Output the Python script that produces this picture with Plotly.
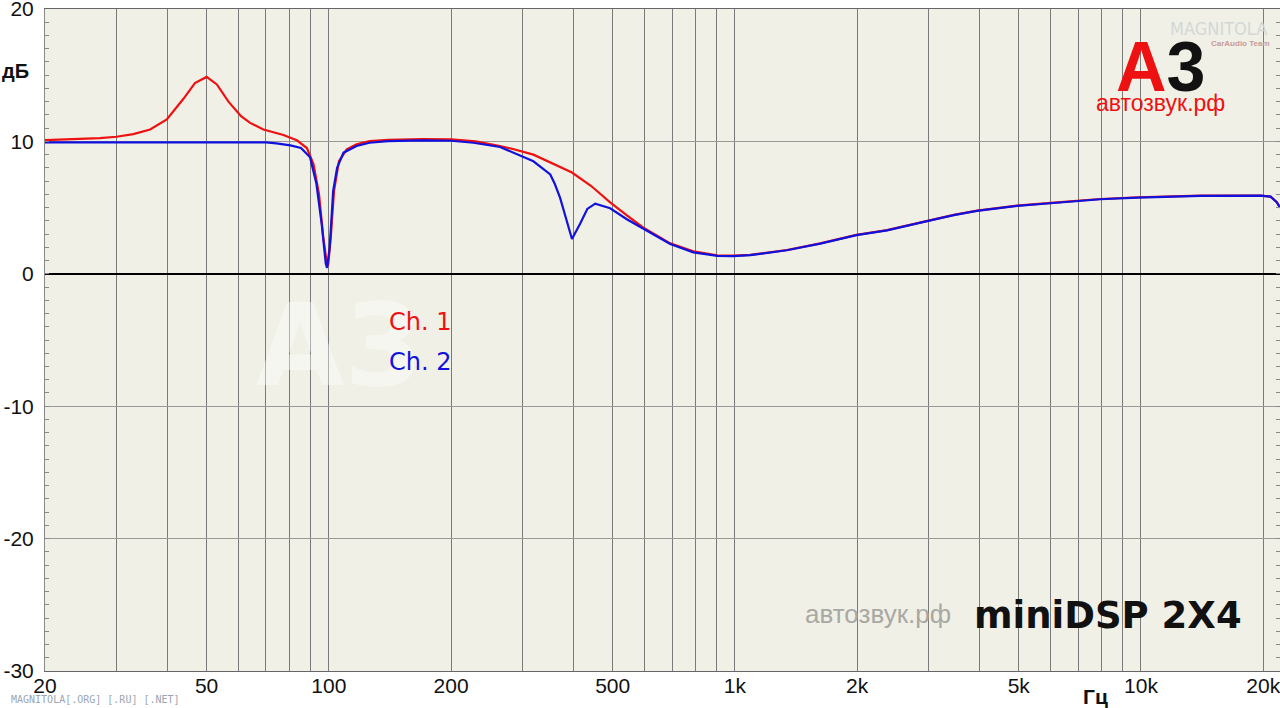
import plotly.graph_objects as go

# ---------------- data ----------------
ch1_freq = [20, 23, 25, 27.3, 30, 33, 36.3, 39.9, 43.8, 46.8, 50, 53, 56.6, 60.8, 64, 69, 77.3, 83.4,
            88.3, 91.7, 94.6, 96.9, 98.8, 99.6, 101.1, 103, 105.9, 110.7, 117, 126, 140, 170, 200,
            230, 264, 284, 319, 351, 397, 442, 493, 543, 594, 693, 790, 905, 1000, 1091, 1343, 1623,
            1992, 2370, 2975, 3460, 3947, 4510, 4955, 5990, 7940, 9840, 14000, 19700, 20850, 21600, 22000]
ch1_db = [10.1, 10.15, 10.2, 10.25, 10.35, 10.55, 10.9, 11.66, 13.2, 14.4, 14.87, 14.3, 13.0, 11.9, 11.4,
          10.9, 10.48, 10.08, 9.5, 8.27, 6.0, 2.75, 0.87, 0.62, 2.75, 6.27, 8.5, 9.4, 9.78, 10.03, 10.12,
          10.18, 10.15, 10.0, 9.65, 9.43, 9.0, 8.4, 7.65, 6.65, 5.4, 4.4, 3.5, 2.3, 1.7, 1.4, 1.38, 1.43,
          1.8, 2.3, 2.94, 3.3, 4.0, 4.45, 4.77, 5.0, 5.15, 5.35, 5.65, 5.78, 5.9, 5.9, 5.83, 5.4, 5.0]

ch2_freq = [20, 30, 50, 70, 74.3, 80.4, 85.4, 89.9, 93.2, 96, 98.3, 99, 100.5, 102.5, 104.8, 108.7, 117,
            126, 140, 170, 200, 227, 264, 284, 319, 351, 360, 371, 386, 397, 416, 433, 453, 493, 543,
            594, 693, 790, 905, 991, 1091, 1343, 1623, 1992, 2370, 2975, 3460, 3947, 4510, 4955, 5990,
            7940, 9840, 14000, 19700, 20850, 21600, 22000]
ch2_db = [9.92, 9.92, 9.92, 9.92, 9.85, 9.7, 9.5, 8.8, 6.8, 3.8, 0.75, 0.45, 2.0, 6.27, 8.0, 9.15, 9.65,
          9.9, 10.02, 10.08, 10.05, 9.9, 9.58, 9.15, 8.5, 7.5, 6.8, 5.75, 3.8, 2.63, 3.8, 4.9, 5.3, 4.95,
          4.1, 3.4, 2.25, 1.62, 1.35, 1.33, 1.41, 1.78, 2.28, 2.92, 3.28, 3.98, 4.43, 4.75, 4.98, 5.13,
          5.33, 5.63, 5.76, 5.88, 5.9, 5.83, 5.4, 5.0]

x_tick_vals = [20, 50, 100, 200, 500, 1000, 2000, 5000, 10000, 20000]
x_tick_text = ["20", "50", "100", "200", "500", "1k", "2k", "5k", "10k", "20k"]
x_minor_vals = [30, 40, 60, 70, 80, 90, 300, 400, 600, 700, 800, 900,
                3000, 4000, 6000, 7000, 8000, 9000]
y_tick_vals = [-30, -20, -10, 0, 10, 20]
y_tick_text = ["-30", "-20", "-10", "0", "10", "20"]

series_names = ["Ch. 1", "Ch. 2"]
series_colors = ["#ee1111", "#1111dd"]

# ---------------- figure ----------------
W, H = 1280, 708
ML, MR, MT, MB = 45, 0, 9, 37
PW, PH = W - ML - MR, H - MT - MB


def paper(px, py):
    return (px - ML) / PW, (H - MB - py) / PH


fig = go.Figure()
for f, d, name, col in [(ch1_freq, ch1_db, series_names[0], series_colors[0]),
                        (ch2_freq, ch2_db, series_names[1], series_colors[1])]:
    fig.add_trace(go.Scatter(x=f, y=d, mode="lines", name=name,
                             line=dict(color=col, width=2.2), showlegend=False))

tick_font = dict(family="Liberation Sans, Arial, sans-serif", size=21, color="#111")

fig.update_layout(
    width=W, height=H,
    margin=dict(l=ML, r=MR, t=MT, b=MB, autoexpand=False),
    paper_bgcolor="white",
    plot_bgcolor="#f1f0e6",
    xaxis=dict(type="log", range=[1.30103, 4.3424], automargin=False,
               tickvals=x_tick_vals, ticktext=x_tick_text,
               showgrid=True, gridcolor="#7a7a7a", gridwidth=1,
               minor=dict(tickvals=x_minor_vals, showgrid=True, gridcolor="#7a7a7a", gridwidth=1),
               showline=True, linecolor="#666", linewidth=1, mirror=True,
               ticks="", tickfont=tick_font, zeroline=False, ticklabelstandoff=-4,
               ticklabeloverflow="allow"),
    yaxis=dict(range=[-30, 20], tickvals=y_tick_vals, ticktext=y_tick_text, automargin=False,
               showgrid=True, gridcolor="#999", gridwidth=1,
               zeroline=True, zerolinecolor="#000", zerolinewidth=2,
               showline=True, linecolor="#888", linewidth=1, mirror="allticks",
               ticks="inside", ticklen=4, tickcolor="#888",
               minor=dict(dtick=1, ticks="inside", ticklen=4, tickcolor="#888"),
               tickfont=tick_font, ticklabelstandoff=6, ticklabeloverflow="allow"),
)

ann = []


def add_text(px, py, text, size, color, family="Liberation Sans, Arial, sans-serif", bold=False,
             xanchor="center", yanchor="middle"):
    x, y = paper(px, py)
    ann.append(dict(x=x, y=y, xref="paper", yref="paper", text=text, showarrow=False,
                    xanchor=xanchor, yanchor=yanchor,
                    font=dict(size=size, color=color, family=family,
                              weight="bold" if bold else "normal")))


# faint watermark behind legend
add_text(340, 345, "A3", 114, "rgba(255,255,255,0.4)", family="DejaVu Sans, sans-serif", bold=True)
# legend
add_text(420, 322, series_names[0], 24, series_colors[0], family="DejaVu Sans, sans-serif")
add_text(420, 362, series_names[1], 24, series_colors[1], family="DejaVu Sans, sans-serif")
# axis titles
add_text(15, 71, "дБ", 20, "#111", bold=True)
add_text(1095, 696, "Гц", 21, "#111", bold=True)
# top right logo
add_text(1161, 67, "<span style='color:#ee1111'>A</span><span style='color:#111'>3</span>", 70, "#111",
         bold=True)
add_text(1160, 103, "автозвук.рф", 23, "#ee1111")
add_text(1218, 28, "MAGNITOLA", 18, "#d2d8d7", family="DejaVu Sans Condensed, DejaVu Sans, sans-serif")
add_text(1240, 44, "CarAudio Team", 8, "#c89a9a", bold=True)
# bottom texts
add_text(878, 614, "автозвук.рф", 26, "#a8a8a4")
add_text(1108, 615, "miniDSP 2X4", 37, "#111", family="DejaVu Sans, sans-serif", bold=True)
add_text(95, 700, "MAGNITOLA[.ORG] [.RU] [.NET]", 10, "#9aa6b2", family="DejaVu Sans Mono, monospace")

fig.update_layout(annotations=ann)

fig.write_html("out.html", config={"displayModeBar": False},
               post_script="document.body.style.margin='0';document.body.style.overflow='hidden';")
